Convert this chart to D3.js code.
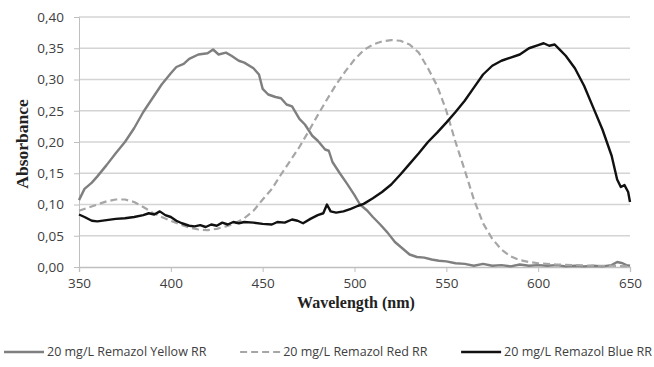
<!DOCTYPE html>
<html>
<head>
<meta charset="utf-8">
<script src="https://cdn.jsdelivr.net/npm/d3@7"></script>
<style>
  body { margin: 0; background: #fff; }
  svg { display: block; }
  .tick text { font-family: "Open Sans", sans-serif; font-size: 13.5px; fill: #404040; }
</style>
</head>
<body>
<div id="chart"></div>
<script>
// data (wavelength nm, absorbance)
var yellowWl = [350,353,357,360,365,370,375,380,385,390,395,400,403,407,410,415,420,423,426,430,433,437,440,445,448,450,453,457,460,463,466,470,473,477,480,484,486,488,492,496,500,503,507,510,514,518,522,526,530,534,538,542,546,550,555,560,565,570,575,580,585,590,595,600,605,610,615,620,625,630,635,640,643,646,648,650];
var yellowAbs = [0.107,0.125,0.135,0.145,0.163,0.182,0.200,0.222,0.248,0.270,0.292,0.310,0.320,0.325,0.333,0.340,0.342,0.348,0.340,0.343,0.338,0.330,0.327,0.318,0.308,0.285,0.276,0.272,0.270,0.260,0.257,0.237,0.228,0.210,0.202,0.188,0.186,0.168,0.150,0.133,0.115,0.100,0.090,0.080,0.068,0.055,0.040,0.030,0.020,0.016,0.015,0.012,0.010,0.009,0.006,0.005,0.002,0.005,0.002,0.003,0.001,0.004,0.002,0.003,0.002,0.003,0.001,0.002,0.001,0.002,0.001,0.003,0.008,0.006,0.003,0.002];

var redWl = [350,355,360,365,370,375,380,385,390,395,400,405,410,415,420,425,430,435,440,445,450,455,460,465,470,475,480,485,490,495,500,505,510,515,520,525,530,535,540,545,550,555,560,565,570,575,580,585,590,595,600,610,620,630,640,650];
var redAbs = [0.090,0.095,0.100,0.105,0.108,0.108,0.104,0.096,0.087,0.080,0.074,0.068,0.063,0.060,0.059,0.061,0.065,0.070,0.078,0.090,0.108,0.125,0.148,0.170,0.192,0.217,0.243,0.268,0.292,0.313,0.332,0.347,0.356,0.361,0.363,0.362,0.356,0.343,0.318,0.290,0.250,0.200,0.155,0.108,0.070,0.045,0.028,0.017,0.011,0.008,0.006,0.004,0.003,0.002,0.002,0.001];

var blueWl = [350,353,357,360,365,370,375,380,385,388,391,394,397,400,403,406,410,413,416,419,422,425,428,431,434,437,440,445,450,455,458,462,466,469,472,476,480,483,485,487,490,494,498,502,505,510,515,520,525,530,535,540,545,550,555,560,565,570,575,580,585,590,595,600,603,606,609,612,615,620,625,630,635,640,643,645,647,649,650];
var blueAbs = [0.084,0.080,0.074,0.073,0.075,0.077,0.078,0.080,0.083,0.086,0.084,0.089,0.083,0.080,0.074,0.070,0.066,0.065,0.067,0.064,0.068,0.066,0.071,0.068,0.072,0.070,0.072,0.071,0.069,0.068,0.072,0.071,0.076,0.074,0.070,0.077,0.083,0.086,0.100,0.089,0.087,0.089,0.093,0.098,0.101,0.110,0.120,0.132,0.148,0.165,0.182,0.200,0.215,0.231,0.248,0.266,0.287,0.308,0.322,0.330,0.335,0.340,0.350,0.355,0.358,0.354,0.356,0.347,0.338,0.318,0.290,0.255,0.220,0.178,0.140,0.128,0.131,0.120,0.104];

var seriesNames = ["20 mg/L Remazol Yellow RR", "20 mg/L Remazol Red RR", "20 mg/L Remazol Blue RR"];
var xTicks = [350, 400, 450, 500, 550, 600, 650];
var yTicks = [0, 0.05, 0.10, 0.15, 0.20, 0.25, 0.30, 0.35, 0.40];

var width = 654, height = 367;
var margin = {top: 17, right: 24, bottom: 100, left: 79};

var svg = d3.select("#chart").append("svg")
    .attr("width", width)
    .attr("height", height);

var x = d3.scaleLinear().domain([350, 650]).range([margin.left, width - margin.right]);
var y = d3.scaleLinear().domain([0, 0.40]).range([height - margin.bottom, margin.top]);

var fmt = function(d) { return d3.format(".2f")(d).replace(".", ","); };

// gridlines
svg.append("g")
    .selectAll("line")
    .data(yTicks.slice(1))
    .enter().append("line")
    .attr("x1", x(350)).attr("x2", x(650))
    .attr("y1", function(d) { return y(d); })
    .attr("y2", function(d) { return y(d); })
    .attr("stroke", "#d4d4d4")
    .attr("stroke-width", 1.3);

var yAxis = svg.append("g")
    .attr("transform", "translate(" + margin.left + ",0)")
    .call(d3.axisLeft(y).tickValues(yTicks).tickFormat(fmt).tickSize(5).tickPadding(10));
yAxis.select(".domain").attr("stroke", "#bfbfbf");
yAxis.selectAll(".tick line").attr("stroke", "#bfbfbf");

var xAxis = svg.append("g")
    .attr("transform", "translate(0," + y(0) + ")")
    .call(d3.axisBottom(x).tickValues(xTicks).tickFormat(d3.format("d")).tickSize(5).tickPadding(6));
xAxis.select(".domain").attr("stroke", "#bfbfbf").attr("stroke-width", 1.3);
xAxis.selectAll(".tick line").attr("stroke", "#bfbfbf");

// axis titles
svg.append("text")
    .attr("transform", "translate(28," + 144 + ") rotate(-90)")
    .attr("text-anchor", "middle")
    .style("font-family", "'Liberation Serif', serif")
    .style("font-weight", "bold")
    .style("font-size", "17.5px")
    .attr("fill", "#222")
    .text("Absorbance");

svg.append("text")
    .attr("x", 356)
    .attr("y", 308)
    .attr("text-anchor", "middle")
    .style("font-family", "'Liberation Serif', serif")
    .style("font-weight", "bold")
    .style("font-size", "16px")
    .attr("fill", "#222")
    .text("Wavelength (nm)");

// lines
var line = d3.line()
    .x(function(d) { return x(d[0]); })
    .y(function(d) { return y(d[1]); });

var series = [
  {wl: yellowWl, abs: yellowAbs, color: "#7f7f7f", dash: null, w: 2.4},
  {wl: redWl, abs: redAbs, color: "#a6a6a6", dash: "7,4", w: 2.2},
  {wl: blueWl, abs: blueAbs, color: "#111", dash: null, w: 2.4}
];

series.forEach(function(s) {
  var pts = s.wl.map(function(w, i) { return [w, s.abs[i]]; });
  svg.append("path")
     .datum(pts)
     .attr("d", line)
     .attr("fill", "none")
     .attr("stroke", s.color)
     .attr("stroke-width", s.w)
     .attr("stroke-dasharray", s.dash)
     .attr("stroke-linejoin", "round");
});

// legend: items spread from left edge to right edge like excel does
var legY = 356, lineLen = 40, legLeft = 4, legRight = 652;
var leg = svg.append("g");
var items = series.map(function(s, i) {
  var g = leg.append("g");
  g.append("line")
     .attr("x1", 0).attr("x2", lineLen)
     .attr("y1", -4).attr("y2", -4)
     .attr("stroke", s.color)
     .attr("stroke-width", s.w)
     .attr("stroke-dasharray", s.dash);
  var t = g.append("text")
     .attr("x", lineLen + 3)
     .attr("y", 0)
     .style("font-family", "'Open Sans', sans-serif")
     .style("font-size", "12.5px")
     .attr("fill", "#404040")
     .text(seriesNames[i]);
  return {g: g, w: lineLen + 3 + t.node().getComputedTextLength()};
});
var total = d3.sum(items, function(d) { return d.w; });
var gap = (legRight - legLeft - total) / (items.length - 1);
var cx = legLeft;
items.forEach(function(it) {
  it.g.attr("transform", "translate(" + cx + "," + legY + ")");
  cx += it.w + gap;
});
</script>
</body>
</html>
